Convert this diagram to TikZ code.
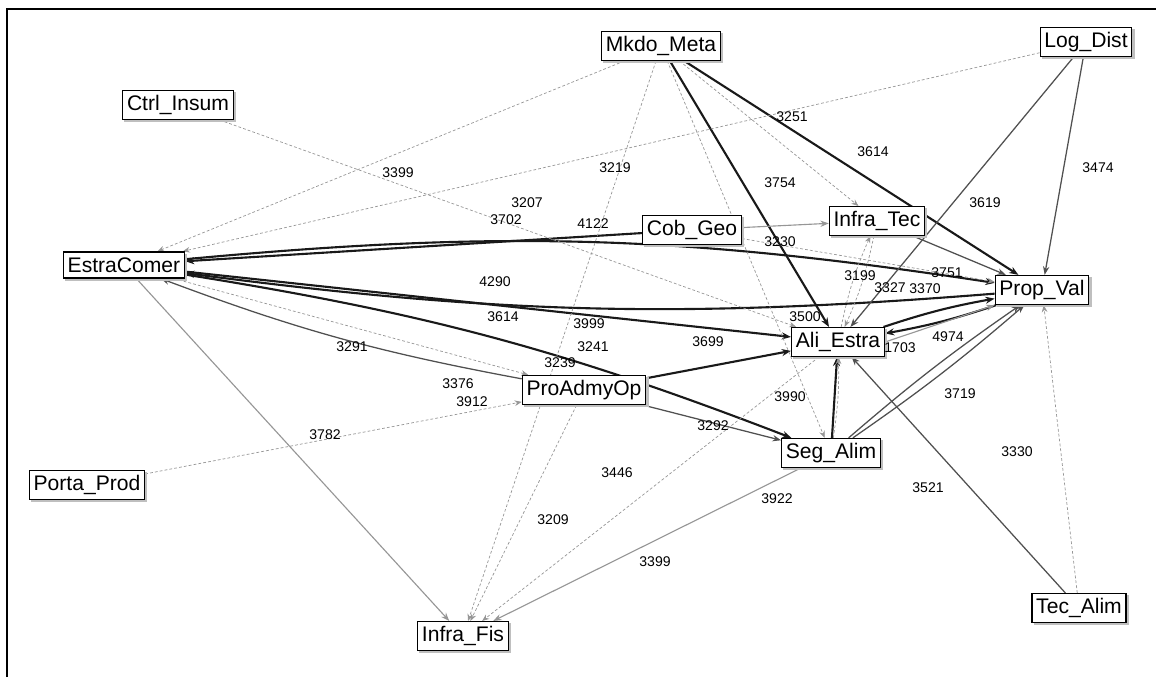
\documentclass[tikz,border=0pt]{standalone}
\usepackage{fontspec}
\setmainfont{Liberation Sans}
\usetikzlibrary{arrows.meta, backgrounds, shadows}
\definecolor{DG}{RGB}{25,25,25}
\definecolor{MG}{RGB}{80,80,80}
\definecolor{LG}{RGB}{150,150,150}

\begin{document}
\begin{tikzpicture}[
  x=0.025cm, y=-0.025cm,
  actor/.style={draw=black, line width=0.9pt, fill=white, inner xsep=3pt,
                minimum height=0.65cm, font=\fontsize{15}{17}\selectfont,
                copy shadow={shadow xshift=1.6pt, shadow yshift=-1.6pt,
                             fill=black!25, draw=black!25}},
  wlab/.style={font=\fontsize{10}{11}\selectfont, inner sep=0pt},
  strong/.style={draw=DG, line width=1.5pt, -{Stealth[length=6.5pt, width=5pt]}},
  medium/.style={draw=MG, line width=0.9pt, -{Stealth[length=6pt, width=4.5pt]}},
  plain/.style={draw=LG, line width=0.8pt, -{Stealth[length=6pt, width=4.5pt]}},
  weak/.style={draw=LG, line width=0.5pt, dash pattern=on 2pt off 1.5pt,
               -{Stealth[length=5pt, width=4pt]}}
]
\useasboundingbox (0,0) rectangle (1156,677);

% Actors
\node[actor] (MM) at (661,46)  {Mkdo\_Meta};
\node[actor] (LD) at (1086,42) {Log\_Dist};
\node[actor] (CI) at (178,105) {Ctrl\_Insum};
\node[actor] (CG) at (692,230) {Cob\_Geo};
\node[actor] (IT) at (877,221) {Infra\_Tec};
\node[actor] (EC) at (124,265) {EstraComer};
\node[actor] (PV) at (1042,290){Prop\_Val};
\node[actor] (AE) at (838,342) {Ali\_Estra};
\node[actor] (PA) at (584,390) {ProAdmyOp};
\node[actor] (SA) at (831,453) {Seg\_Alim};
\node[actor] (PP) at (87,485)  {Porta\_Prod};
\node[actor] (IF) at (463,636) {Infra\_Fis};
\node[actor] (TA) at (1079,608){Tec\_Alim};

\begin{scope}[on background layer]
% Frame
\draw[line width=1pt] (7,677) -- (7,9) -- (1156,9);

% Strong ties
\draw[strong] (MM) -- (AE);
\draw[strong] (MM) -- (PV);
\draw[strong] (CG) -- (EC);
\draw[strong] (EC) to[bend left=7] (PV);
\draw[strong] (PV) to[bend left=6] (EC);
\draw[strong] (EC) -- (AE);
\draw[strong] (EC) to[bend left=6] (SA);
\draw[strong] (PA) -- (AE);
\draw[strong] (SA) -- (AE);
\draw[strong] (AE) to[bend left=4] (PV);
\draw[strong] (PV) to[bend left=4] (AE);

% Medium ties
\draw[medium] (LD) -- (AE);
\draw[medium] (LD) -- (PV);
\draw[medium] (PA) to[bend left=5] (EC);
\draw[medium] (PA) -- (SA);
\draw[medium] (TA) -- (AE);
\draw[medium] (IT) -- (PV);
\draw[medium] (SA) to[bend left=3] (PV);
\draw[medium] (SA) to[bend right=3] (PV);

% Plain ties
\draw[plain] (CG) -- (IT);
\draw[plain] (EC) -- (IF);
\draw[plain] (SA) -- (IF);
\draw[plain] (AE.east) -- (PV.south west);

% Weak ties
\foreach \s/\t in {MM/EC, LD/EC, CI/AE, MM/IF, MM/SA, MM/IT, CG/PV,
                   EC/PA, PP/PA, PA/IF, AE/IF, TA/PV}
  \draw[weak] (\s) -- (\t);
\draw[weak] (IT) to[bend left=6] (AE);
\draw[weak] (AE) to[bend left=6] (IT);
\draw[weak] (SA) to[bend right=5] (AE);
\end{scope}

% Tie weights
\foreach \x/\y/\w [count=\i] in {
    792/117/3251, 873/152/3614, 1098/168/3474, 398/173/3399,
    615/168/3219, 780/183/3754, 985/203/3619, 527/203/3207,
    506/220/3702, 593/224/4122, 780/242/3230, 495/282/4290,
    860/276/3199, 947/273/3751, 890/288/3327, 925/289/3370,
    503/317/3614, 589/324/3999, 805/317/3500, 593/347/3241,
    708/342/3699, 948/337/4974, 900/348/1703, 560/363/3239,
    352/347/3291, 458/384/3376, 472/402/3912, 790/397/3990,
    960/394/3719, 713/426/3292, 325/435/3782, 617/473/3446,
    1017/452/3330, 928/488/3521, 777/499/3922, 553/520/3209,
    655/562/3399}
  \node[wlab] (w\i) at (\x,\y) {\w};
\end{tikzpicture}
\end{document}
